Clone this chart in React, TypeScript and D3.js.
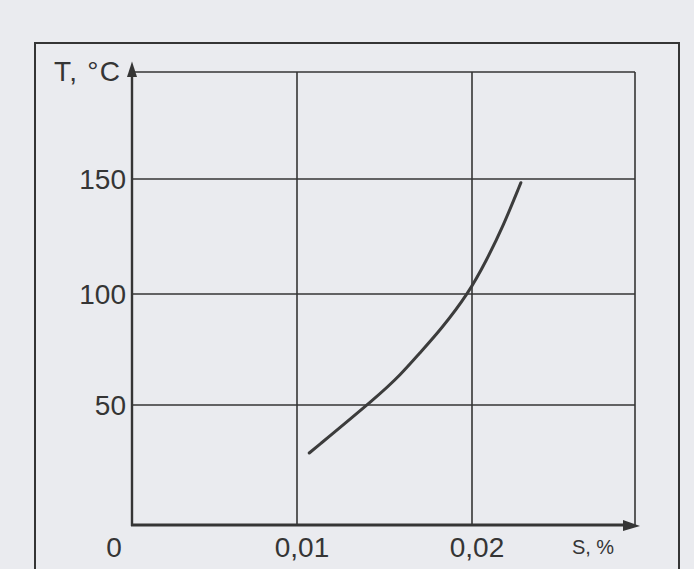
import React from "react";
import * as d3 from "d3";

// Data
const sValues = [0.0107, 0.0147, 0.0159, 0.017, 0.0182, 0.0198, 0.0209, 0.0219, 0.023];
const tValues = [30, 54.5, 63.5, 73.3, 83.8, 100.3, 114.8, 129.3, 148.4];
const xTicks = [0.01, 0.02];
const xTickLabels = ["0,01", "0,02"];
const yTicks = [50, 100, 150];
const yTickLabels = ["50", "100", "150"];
const xGrid = [0.01, 0.02, 0.03];
const yGrid = [50, 100, 150, 200];

const W = 694;
const H = 569;
const BG = "#eaebef";
const INK = "#353535";
const FONT = "'Liberation Sans', Arial, sans-serif";

export default function App() {
  // piecewise-linear scales follow the (slightly uneven) printed grid
  const x = d3.scaleLinear().domain([0, 0.01, 0.02, 0.03]).range([132, 297, 472, 635]);
  const y = d3.scaleLinear().domain([0, 50, 100, 150, 200]).range([525, 405, 294, 179, 72]);

  const pts = sValues.map((s, i) => [s, tValues[i]] as [number, number]);
  const line = d3
    .line<[number, number]>()
    .x((d) => x(d[0]))
    .y((d) => y(d[1]))
    .curve(d3.curveBasis);

  const x0 = x(0);
  const y0 = y(0);
  const xMax = x(0.03);
  const yMax = y(200);

  return (
    <svg
      width={W}
      height={H}
      viewBox={`0 0 ${W} ${H}`}
      style={{ position: "absolute", left: 0, top: 0, display: "block" }}
    >
      <rect x={0} y={0} width={W} height={H} fill={BG} />
      {/* outer frame */}
      <path
        d={`M35,${H + 5} L35,43 L679,43 L679,${H + 5}`}
        fill="none"
        stroke={INK}
        strokeWidth={2}
      />
      {/* grid */}
      {yGrid.map((v) => (
        <line key={"h" + v} x1={x0} x2={xMax} y1={y(v)} y2={y(v)} stroke={INK} strokeWidth={1.6} />
      ))}
      {xGrid.map((v) => (
        <line key={"v" + v} x1={x(v)} x2={x(v)} y1={yMax} y2={y0} stroke={INK} strokeWidth={1.6} />
      ))}
      {/* axes */}
      <line x1={x0} x2={x0} y1={y0 + 1} y2={70} stroke={INK} strokeWidth={2.4} />
      <line x1={x0 - 1} x2={628} y1={y0} y2={y0} stroke={INK} strokeWidth={3} />
      <path d={`M${x0},61.5 L${x0 - 5},77 L${x0 + 5},77 Z`} fill={INK} />
      <path d={`M640,${y0 + 1} L623,${y0 - 5} L623,${y0 + 6} Z`} fill={INK} />
      {/* curve */}
      <path d={line(pts) || ""} fill="none" stroke="#3c3c3c" strokeWidth={3} strokeLinecap="round" />
      {/* labels */}
      <text x={54} y={81} fontFamily={FONT} fontSize={28} fill={INK} textLength={66} lengthAdjust="spacing">
        T, °C
      </text>
      {yTicks.map((v, i) => (
        <text
          key={"yt" + v}
          x={126}
          y={y(v) + 10}
          fontFamily={FONT}
          fontSize={28}
          fill={INK}
          textAnchor="end"
        >
          {yTickLabels[i]}
        </text>
      ))}
      <text x={114} y={557} fontFamily={FONT} fontSize={28} fill={INK} textAnchor="middle">
        0
      </text>
      {xTicks.map((v, i) => (
        <text
          key={"xt" + v}
          x={x(v) + 5}
          y={557}
          fontFamily={FONT}
          fontSize={28}
          fill={INK}
          textAnchor="middle"
        >
          {xTickLabels[i]}
        </text>
      ))}
      <text x={593} y={554} fontFamily={FONT} fontSize={20} fill={INK} textAnchor="middle">
        S, %
      </text>
    </svg>
  );
}
